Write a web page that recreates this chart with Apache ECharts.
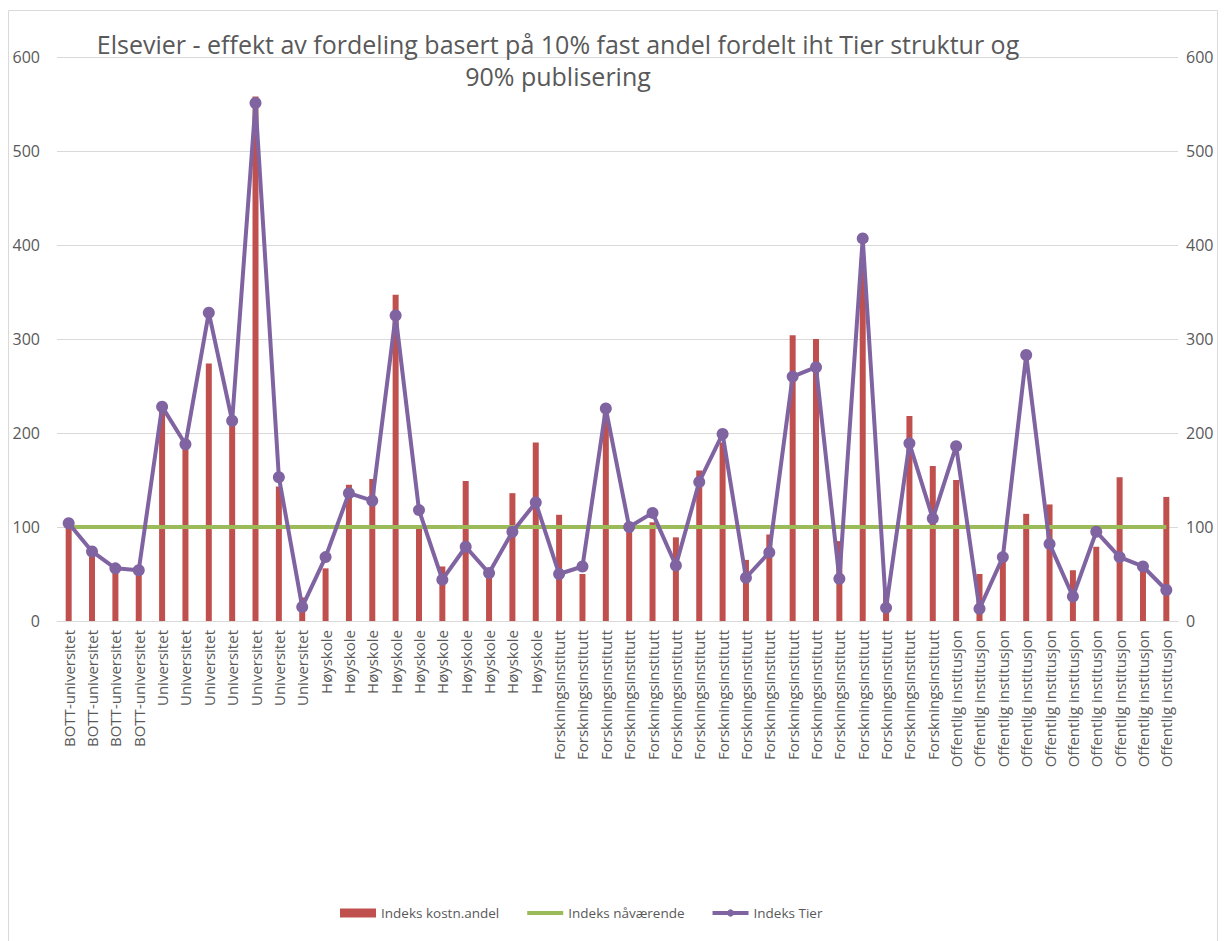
<!DOCTYPE html>
<html>
<head>
<meta charset="utf-8">
<script src="https://cdn.jsdelivr.net/npm/echarts@6/dist/echarts.min.js"></script>
<style>
html,body{margin:0;padding:0;background:#fff;}
#chart{width:1224px;height:941px;}
</style>
</head>
<body>
<div id="chart"></div>
<script>
const categories = [
  'BOTT-universitet','BOTT-universitet','BOTT-universitet','BOTT-universitet',
  'Universitet','Universitet','Universitet','Universitet','Universitet','Universitet','Universitet',
  'Høyskole','Høyskole','Høyskole','Høyskole','Høyskole','Høyskole','Høyskole','Høyskole','Høyskole','Høyskole',
  'Forskningsinstitutt','Forskningsinstitutt','Forskningsinstitutt','Forskningsinstitutt','Forskningsinstitutt',
  'Forskningsinstitutt','Forskningsinstitutt','Forskningsinstitutt','Forskningsinstitutt','Forskningsinstitutt',
  'Forskningsinstitutt','Forskningsinstitutt','Forskningsinstitutt','Forskningsinstitutt','Forskningsinstitutt',
  'Forskningsinstitutt','Forskningsinstitutt',
  'Offentlig institusjon','Offentlig institusjon','Offentlig institusjon','Offentlig institusjon','Offentlig institusjon',
  'Offentlig institusjon','Offentlig institusjon','Offentlig institusjon','Offentlig institusjon','Offentlig institusjon'
];
const indeksKostnAndel = [100, 70, 55, 52, 233, 187, 274, 217, 558, 143, 25, 56, 145, 151, 347, 100, 58, 149, 50, 136, 190, 113, 50, 221, 98, 105, 89, 160, 190, 65, 92, 304, 300, 85, 386, 30, 218, 165, 150, 50, 63, 114, 124, 54, 79, 153, 55, 132];
const indeksNavaerende = [100,100,100,100,100,100,100,100,100,100,100,100,100,100,100,100,100,100,100,100,100,100,100,100,100,100,100,100,100,100,100,100,100,100,100,100,100,100,100,100,100,100,100,100,100,100,100,100];
const indeksTier = [104, 74, 56, 54, 228, 188, 328, 213, 551, 153, 15, 68, 136, 128, 325, 118, 44, 79, 51, 95, 126, 50, 58, 226, 100, 115, 59, 148, 199, 46, 73, 260, 270, 45, 407, 14, 189, 109, 186, 13, 68, 283, 82, 26, 95, 68, 58, 33];
const yTicks = [0, 100, 200, 300, 400, 500, 600];

const FONT = '"Open Sans", Lato, sans-serif';
const TXT = '#595959';

const chart = echarts.init(document.getElementById('chart'), null, {renderer: 'svg'});
chart.setOption({
  animation: false,
  backgroundColor: '#fff',
  textStyle: {fontFamily: FONT, color: TXT},
  graphic: [
    {type: 'rect', shape: {x: 8.5, y: 10.5, width: 1209, height: 940}, style: {fill: 'none', stroke: '#D9D9D9', lineWidth: 1}, silent: true, z: -10},
    {type: 'text', x: 558, y: 28, z: 100, style: {
      text: 'Elsevier - effekt av fordeling basert på 10% fast andel fordelt iht Tier struktur og\n90% publisering',
      align: 'center', verticalAlign: 'top', fill: TXT, font: '25px ' + FONT, lineHeight: 32
    }}
  ],
  legend: {
    bottom: 16, left: 335, itemGap: 26, itemWidth: 36, itemHeight: 9,
    textStyle: {fontFamily: FONT, fontSize: 13.5, color: TXT},
    data: [
      {name: 'Indeks kostn.andel', icon: 'rect'},
      {name: 'Indeks nåværende', itemStyle: {color: 'rgba(0,0,0,0)', borderWidth: 0}, lineStyle: {width: 4, color: '#9BBB59'}},
      {name: 'Indeks Tier', lineStyle: {width: 4, color: '#8064A2'}}
    ]
  },
  grid: {left: 57, right: 46, top: 57, bottom: 320, containLabel: false},
  xAxis: {
    type: 'category', data: categories, boundaryGap: true,
    axisLine: {lineStyle: {color: '#D9D9D9', width: 1}},
    axisTick: {show: false},
    axisLabel: {rotate: 90, interval: 0, margin: 9, fontSize: 15, color: TXT, fontFamily: FONT}
  },
  yAxis: [
    {type: 'value', min: yTicks[0], max: yTicks[yTicks.length - 1], interval: 100, position: 'left',
     axisLine: {show: false}, axisTick: {show: false},
     axisLabel: {margin: 17, fontSize: 16, color: TXT, fontFamily: FONT},
     splitLine: {lineStyle: {color: '#D9D9D9', width: 1}}},
    {type: 'value', min: yTicks[0], max: yTicks[yTicks.length - 1], interval: 100, position: 'right',
     axisLine: {show: false}, axisTick: {show: false},
     axisLabel: {margin: 8, fontSize: 16, color: TXT, fontFamily: FONT},
     splitLine: {show: false}}
  ],
  series: [
    {name: 'Indeks kostn.andel', type: 'bar', data: indeksKostnAndel, barWidth: 6,
     itemStyle: {color: '#C0504D'}, z: 2},
    {name: 'Indeks nåværende', type: 'line', data: indeksNavaerende, showSymbol: false, symbol: 'none',
     lineStyle: {color: '#9BBB59', width: 4}, itemStyle: {color: '#9BBB59'}, z: 3},
    {name: 'Indeks Tier', type: 'line', data: indeksTier, symbol: 'circle', symbolSize: 12, showSymbol: true,
     lineStyle: {color: '#8064A2', width: 4}, itemStyle: {color: '#8064A2'}, z: 4}
  ]
});
</script>
</body>
</html>
